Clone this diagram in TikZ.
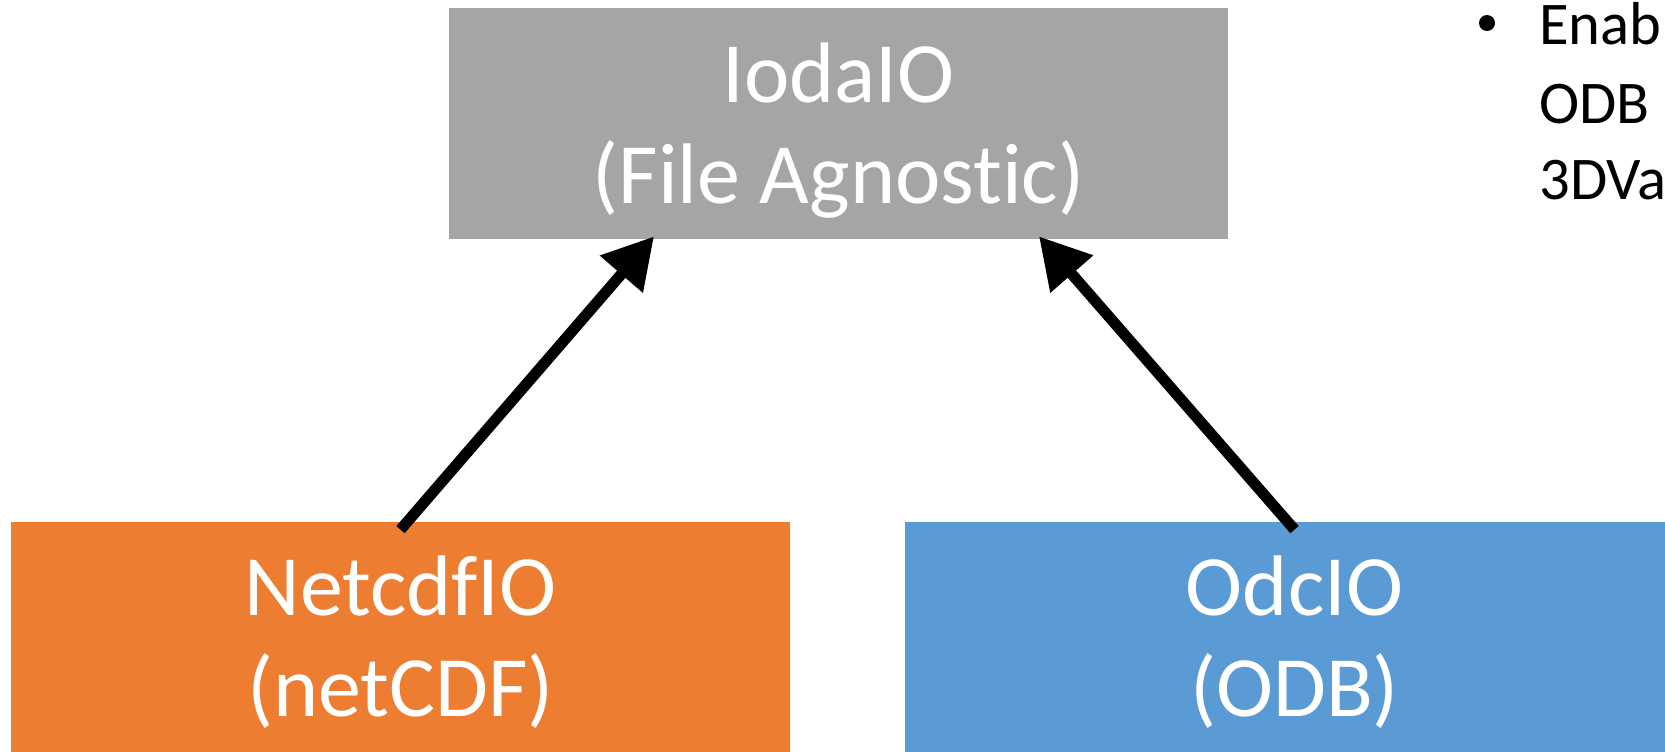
\documentclass[tikz,border=0pt]{standalone}
\usepackage{fontspec}
\setmainfont{Carlito}[Ligatures={NoCommon}]
\usetikzlibrary{arrows.meta}
\definecolor{boxgray}{HTML}{A5A5A5}
\definecolor{boxorange}{HTML}{ED7D31}
\definecolor{boxblue}{HTML}{5B9BD5}
\tikzset{
  blockbox/.style={rectangle, inner sep=0pt, draw=none, minimum width=389.5pt, minimum height=115.5pt},
  boxtext/.style={text=white, inner sep=0pt, anchor=base, font=\fontsize{43}{51}\selectfont},
  sidetext/.style={text=black, inner sep=0pt, anchor=base west, font=\fontsize{30.3}{38}\selectfont},
  conn/.style={draw=black, line width=5.5pt, -{Triangle[length=25pt, width=27pt]}},
}
\begin{document}
\begin{tikzpicture}[x=0.5pt, y=-0.5pt]
\useasboundingbox (0,0) rectangle (1665,751);
\clip (0,0) rectangle (1665,751);
% boxes
\node[blockbox, fill=boxgray]   (ioda) at (838.5,123.5) {};
\node[blockbox, fill=boxorange] (nc)   at (400.5,637.5) {};
\node[blockbox, fill=boxblue]   (odc)  at (1294.5,637.5) {};
% box texts
\node[boxtext] (ioda1) at (838.5,102) {IodaIO};
\node[boxtext] (ioda2) at (838.5,203) {(File Agnostic)};
\node[boxtext] (nc1) at (400.5,615) {NetcdfIO};
\node[boxtext] (nc2) at (400.5,716.5) {(netCDF)};
\node[boxtext] (odc1) at (1294.5,615) {OdcIO};
\node[boxtext] (odc2) at (1294.5,716.5) {(ODB)};
% side bullet text
\node[circle, fill=black, inner sep=0pt, minimum size=8pt] (bul) at (1487,23) {};
\node[sidetext] (s1) at (1539,44) {Enab};
\node[sidetext] (s2) at (1539,123) {ODB};
\node[sidetext] (s3) at (1539,199) {3DVa};
% connectors
\draw[conn] ([yshift=-4pt]nc.north) -- ([xshift=-92.25pt, yshift=1.5pt]ioda.south);
\draw[conn] ([yshift=-4pt]odc.north) -- ([xshift=100.25pt, yshift=1.5pt]ioda.south);
\end{tikzpicture}
\end{document}
